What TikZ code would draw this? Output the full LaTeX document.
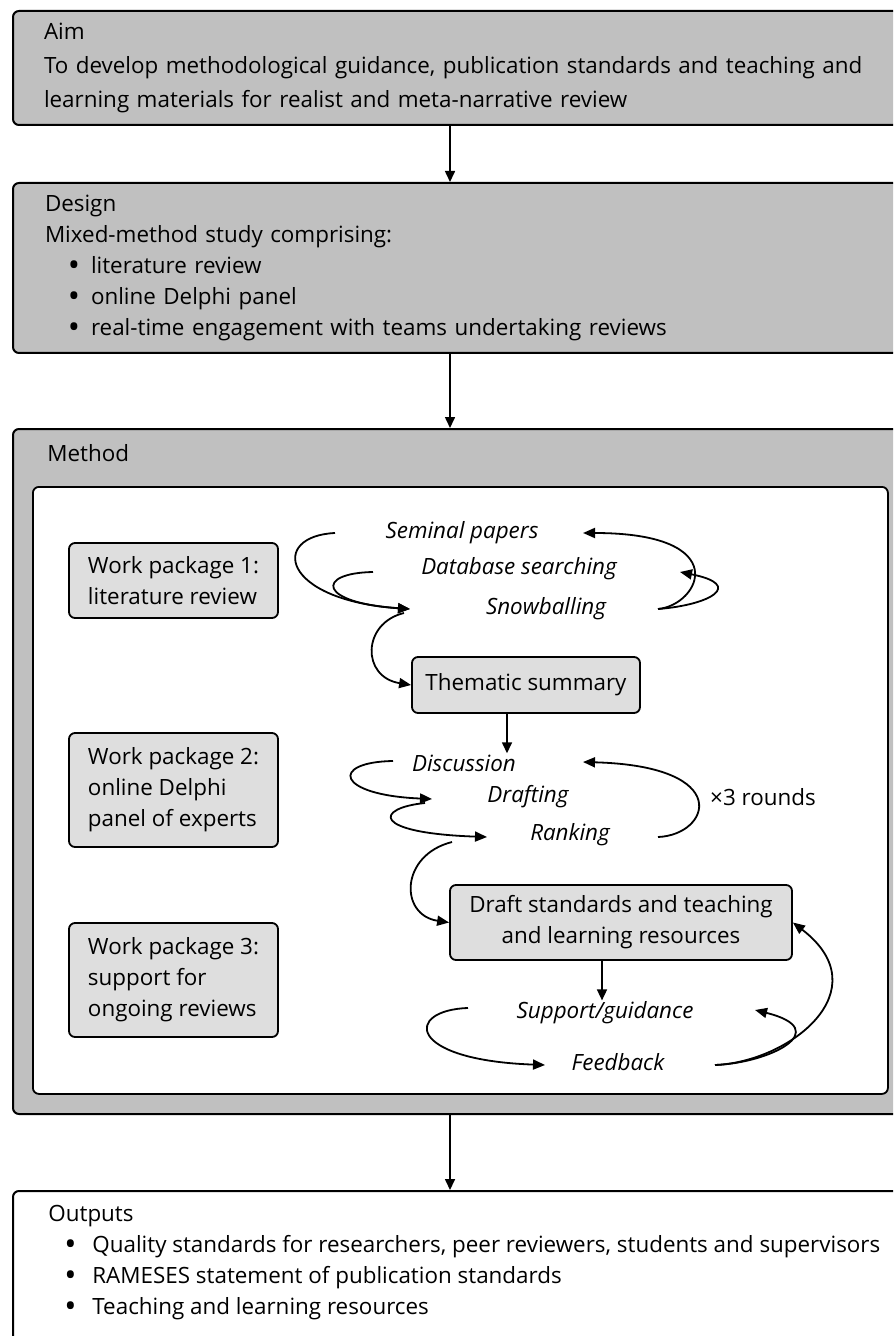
\documentclass[tikz,border=0pt]{standalone}
\usepackage{fontspec}
\setmainfont{Open Sans}
\usetikzlibrary{arrows.meta}
\definecolor{panelgray}{RGB}{192,192,192}
\definecolor{boxgray}{RGB}{222,222,222}
\newcommand{\bulletline}[3]{\hspace*{#1}\makebox[#2][l]{\raisebox{-0.12em}{\scalebox{1.45}{\textbullet}}}#3}
\tikzset{
    panel/.style={%
        draw, rounded corners=3pt, line width=1pt,
        fill=panelgray, anchor=north west,
        align=left, text width=440pt,
        inner xsep=15.5pt, inner ysep=0pt
        },
    package/.style={%
        draw, rounded corners=3pt, line width=0.9pt,
        fill=boxgray, align=left,
        minimum width=104.5pt
        },
    stage/.style={%
        draw, rounded corners=3pt, line width=0.9pt,
        fill=boxgray, align=center,
        minimum width=#1
        },
    stage/.default=114pt,
    activity/.style={font=\fontsize{11.2pt}{15.5pt}\selectfont\itshape, inner sep=0.5pt},
    swirl/.style={-{Triangle[length=6pt,width=5pt]}, line width=0.9pt},
    >={Triangle[length=5.5pt,width=5pt]}
}

\begin{document}
\begin{tikzpicture}[x=0.5pt, y=-0.5pt, font=\fontsize{11.2pt}{15.5pt}\selectfont]

\clip (0,0) rectangle (893,1336);

\node[panel, minimum height=57pt] (aim) at (12,10) {Aim\\[1.5pt]To develop methodological guidance, publication standards and teaching and\\[1.5pt]learning materials for realist and meta-narrative review};

\node[panel, minimum height=85pt, inner xsep=16pt] (design) at (12,182) {Design\\Mixed-method study comprising:\\\bulletline{11.5pt}{11.5pt}{literature review}\\\bulletline{11.5pt}{11.5pt}{online Delphi panel}\\\bulletline{11.5pt}{11.5pt}{real-time engagement with teams undertaking reviews}};

% method panel with white body
\node[panel, minimum height=342.5pt] (method) at (12,428) {};
\node[anchor=west, inner sep=0pt] (methodlabel) at (47,453) {Method};
\node[draw, rounded corners=3pt, line width=0.9pt, fill=white, anchor=north west,
  minimum width=427.5pt, minimum height=303.5pt, inner sep=0pt] (methodbody) at (32,486) {};

\node[package, minimum height=37.5pt] (wp1) at (173.5,580.5) {Work package 1:\\literature review};
\node[package, minimum height=57pt] (wp2) at (173.5,790) {Work package 2:\\online Delphi\\panel of experts};
\node[package, minimum height=57pt] (wp3) at (173.5,980) {Work package 3:\\support for\\ongoing reviews};

\node[activity] (seminal) at (462,533) {Seminal papers};
\node[activity] (database) at (519,569) {Database searching};
\node[activity] (snowball) at (546,609) {Snowballing};
\node[stage, minimum height=28pt] (thematic) at (526,685) {Thematic summary};

\node[activity] (discussion) at (464,763) {Discussion};
\node[activity] (drafting) at (528,797) {Drafting};
\node[activity] (ranking) at (570,835) {Ranking};
\node (rounds) at (763,797) {×3 rounds};
\node[stage=171pt, minimum height=37.5pt] (draft) at (621,922.5) {Draft standards and teaching\\and learning resources};

\node[activity] (support) at (605,1013) {Support/guidance};
\node[activity] (feedback) at (618,1062) {Feedback};

\node[panel, fill=white, minimum height=100pt] (outputs) at (12,1190) {};
\node[anchor=north west, align=left, inner sep=0pt] (outputlist) at ([shift={(36,15)}]outputs.north west) {Outputs\\\bulletline{8pt}{14pt}{Quality standards for researchers, peer reviewers, students and supervisors}\\\bulletline{8pt}{14pt}{RAMESES statement of publication standards}\\\bulletline{8pt}{14pt}{Teaching and learning resources}};

% main flow
\coordinate (spine) at (450,0);
\draw[->, line width=0.8pt] (aim.south -| spine) -- (design.north -| spine);
\draw[->, line width=0.8pt] (design.south -| spine) -- (method.north -| spine);
\draw[->, line width=0.8pt] (method.south -| spine) -- (outputs.north -| spine);

% work package 1
\draw[swirl] ([shift={(-127,0)}]seminal.center) .. controls +(-65,3) and +(-130,-9) .. ([shift={(-136,0)}]snowball.center);
\draw[swirl] ([shift={(-146,3)}]database.center) .. controls +(-58,1) and +(-92,-6) .. ([shift={(-136,0)}]snowball.center);
\draw[swirl] ([shift={(-142,4)}]snowball.center) .. controls +(-42,10) and +(-50,-8) .. (thematic.west);
\draw[swirl] ([shift={(112,0)}]snowball.center) .. controls +(42,-4) and +(152,0) .. ([shift={(121,0)}]seminal.center);
\draw[swirl] ([shift={(112,0)}]snowball.center) .. controls +(52,-4) and +(65,13) .. ([shift={(161,3)}]database.center);
\draw[->, line width=0.8pt] ([shift={(-19,0)}]thematic.south) -- ([shift={(-19,0)}]thematic.south |- discussion.north);

% work package 2
\draw[swirl] ([shift={(-71,-2)}]discussion.center) .. controls +(-63,1) and +(-97,-4) .. ([shift={(-96,2)}]drafting.center);
\draw[swirl] ([shift={(-103,6)}]drafting.center) .. controls +(-50,5) and +(-117,-4) .. ([shift={(-83,2)}]ranking.center);
\draw[swirl] ([shift={(-118,7)}]ranking.center) .. controls +(-52,13) and +(-50,-7.5) .. (draft.west);
\draw[swirl] ([shift={(88,2)}]ranking.center) .. controls +(52,-2) and +(152,4) .. ([shift={(119,-1)}]discussion.center);
\draw[->, line width=0.8pt] ([shift={(-19,0)}]draft.south) -- ([shift={(-19,0)}]draft.south |- support.north);

% work package 3
\draw[swirl] ([shift={(-137,-5)}]support.center) .. controls +(-63,2) and +(-140,-5) .. ([shift={(-73,3)}]feedback.center);
\draw[swirl] ([shift={(97,3)}]feedback.center) .. controls +(55,-2) and +(80,20) .. ([shift={(150,-3)}]support.center);
\draw[swirl] ([shift={(97,3)}]feedback.center) .. controls +(75,-3) and +(88,67.5) .. (draft.east);

\end{tikzpicture}
\end{document}
